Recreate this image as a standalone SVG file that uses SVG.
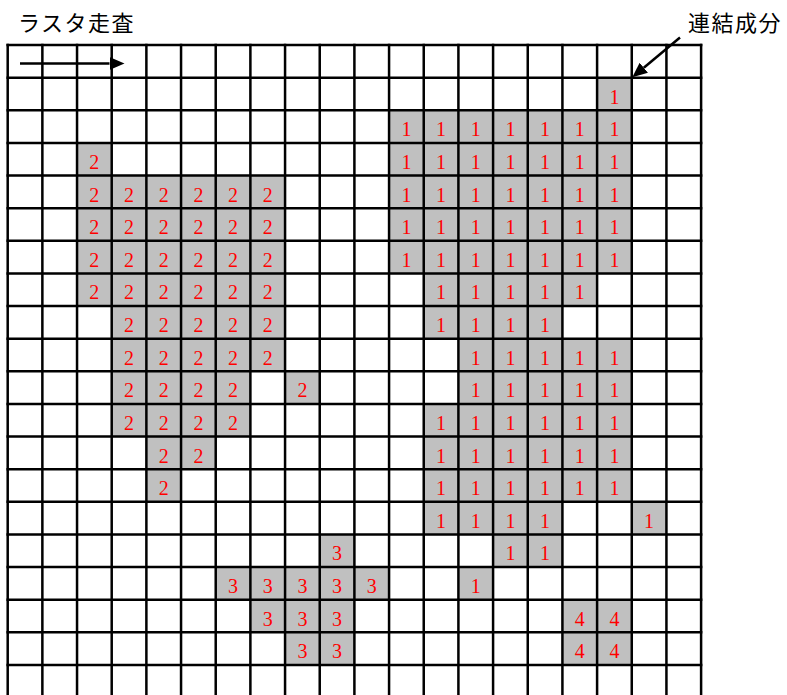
<svg xmlns="http://www.w3.org/2000/svg" xmlns:xlink="http://www.w3.org/1999/xlink" width="787" height="695" viewBox="0 0 787 695">
<style>
.cell{fill:#c0c0c0;stroke:none}
.n{font-family:"Liberation Serif","DejaVu Serif",serif;font-size:20px;fill:#ff0000;text-anchor:middle}
.title{font-family:"Noto Sans CJK JP",sans-serif;font-size:22px;fill:#000;letter-spacing:1.5px}
.grid{fill:none;stroke:#000;stroke-width:2.5;stroke-linecap:square}
.conn{stroke:#000;stroke-width:2.5;fill:none}
</style>
<defs>
<rect id="cell" class="cell" width="34.67" height="32.63"/>
<marker id="ah" markerUnits="userSpaceOnUse" markerWidth="16" markerHeight="14" refX="0" refY="6.5" orient="auto">
<path d="M0,0 L15,6.5 L0,13 Z" fill="#000"/>
</marker>
</defs>
<rect width="787" height="695" fill="#fff"/>
<text id="label-raster" class="title" x="18" y="31">ラスタ走査</text>
<text id="label-component" class="title" x="688" y="31">連結成分</text>

<g id="component-1">
<g transform="translate(0,77.63)"><use href="#cell" x="597.09"/><text class="n" x="614.42" y="26">1</text></g>
<g transform="translate(0,110.26)"><use href="#cell" x="389.07"/><use href="#cell" x="423.74"/><use href="#cell" x="458.41"/><use href="#cell" x="493.08"/><use href="#cell" x="527.75"/><use href="#cell" x="562.42"/><use href="#cell" x="597.09"/><text class="n" x="406.4" y="26">1</text><text class="n" x="441.07" y="26">1</text><text class="n" x="475.74" y="26">1</text><text class="n" x="510.41" y="26">1</text><text class="n" x="545.08" y="26">1</text><text class="n" x="579.75" y="26">1</text><text class="n" x="614.42" y="26">1</text></g>
<g transform="translate(0,142.89)"><use href="#cell" x="389.07"/><use href="#cell" x="423.74"/><use href="#cell" x="458.41"/><use href="#cell" x="493.08"/><use href="#cell" x="527.75"/><use href="#cell" x="562.42"/><use href="#cell" x="597.09"/><text class="n" x="406.4" y="26">1</text><text class="n" x="441.07" y="26">1</text><text class="n" x="475.74" y="26">1</text><text class="n" x="510.41" y="26">1</text><text class="n" x="545.08" y="26">1</text><text class="n" x="579.75" y="26">1</text><text class="n" x="614.42" y="26">1</text></g>
<g transform="translate(0,175.52)"><use href="#cell" x="389.07"/><use href="#cell" x="423.74"/><use href="#cell" x="458.41"/><use href="#cell" x="493.08"/><use href="#cell" x="527.75"/><use href="#cell" x="562.42"/><use href="#cell" x="597.09"/><text class="n" x="406.4" y="26">1</text><text class="n" x="441.07" y="26">1</text><text class="n" x="475.74" y="26">1</text><text class="n" x="510.41" y="26">1</text><text class="n" x="545.08" y="26">1</text><text class="n" x="579.75" y="26">1</text><text class="n" x="614.42" y="26">1</text></g>
<g transform="translate(0,208.15)"><use href="#cell" x="389.07"/><use href="#cell" x="423.74"/><use href="#cell" x="458.41"/><use href="#cell" x="493.08"/><use href="#cell" x="527.75"/><use href="#cell" x="562.42"/><use href="#cell" x="597.09"/><text class="n" x="406.4" y="26">1</text><text class="n" x="441.07" y="26">1</text><text class="n" x="475.74" y="26">1</text><text class="n" x="510.41" y="26">1</text><text class="n" x="545.08" y="26">1</text><text class="n" x="579.75" y="26">1</text><text class="n" x="614.42" y="26">1</text></g>
<g transform="translate(0,240.78)"><use href="#cell" x="389.07"/><use href="#cell" x="423.74"/><use href="#cell" x="458.41"/><use href="#cell" x="493.08"/><use href="#cell" x="527.75"/><use href="#cell" x="562.42"/><use href="#cell" x="597.09"/><text class="n" x="406.4" y="26">1</text><text class="n" x="441.07" y="26">1</text><text class="n" x="475.74" y="26">1</text><text class="n" x="510.41" y="26">1</text><text class="n" x="545.08" y="26">1</text><text class="n" x="579.75" y="26">1</text><text class="n" x="614.42" y="26">1</text></g>
<g transform="translate(0,273.41)"><use href="#cell" x="423.74"/><use href="#cell" x="458.41"/><use href="#cell" x="493.08"/><use href="#cell" x="527.75"/><use href="#cell" x="562.42"/><text class="n" x="441.07" y="26">1</text><text class="n" x="475.74" y="26">1</text><text class="n" x="510.41" y="26">1</text><text class="n" x="545.08" y="26">1</text><text class="n" x="579.75" y="26">1</text></g>
<g transform="translate(0,306.04)"><use href="#cell" x="423.74"/><use href="#cell" x="458.41"/><use href="#cell" x="493.08"/><use href="#cell" x="527.75"/><text class="n" x="441.07" y="26">1</text><text class="n" x="475.74" y="26">1</text><text class="n" x="510.41" y="26">1</text><text class="n" x="545.08" y="26">1</text></g>
<g transform="translate(0,338.67)"><use href="#cell" x="458.41"/><use href="#cell" x="493.08"/><use href="#cell" x="527.75"/><use href="#cell" x="562.42"/><use href="#cell" x="597.09"/><text class="n" x="475.74" y="26">1</text><text class="n" x="510.41" y="26">1</text><text class="n" x="545.08" y="26">1</text><text class="n" x="579.75" y="26">1</text><text class="n" x="614.42" y="26">1</text></g>
<g transform="translate(0,371.3)"><use href="#cell" x="458.41"/><use href="#cell" x="493.08"/><use href="#cell" x="527.75"/><use href="#cell" x="562.42"/><use href="#cell" x="597.09"/><text class="n" x="475.74" y="26">1</text><text class="n" x="510.41" y="26">1</text><text class="n" x="545.08" y="26">1</text><text class="n" x="579.75" y="26">1</text><text class="n" x="614.42" y="26">1</text></g>
<g transform="translate(0,403.93)"><use href="#cell" x="423.74"/><use href="#cell" x="458.41"/><use href="#cell" x="493.08"/><use href="#cell" x="527.75"/><use href="#cell" x="562.42"/><use href="#cell" x="597.09"/><text class="n" x="441.07" y="26">1</text><text class="n" x="475.74" y="26">1</text><text class="n" x="510.41" y="26">1</text><text class="n" x="545.08" y="26">1</text><text class="n" x="579.75" y="26">1</text><text class="n" x="614.42" y="26">1</text></g>
<g transform="translate(0,436.56)"><use href="#cell" x="423.74"/><use href="#cell" x="458.41"/><use href="#cell" x="493.08"/><use href="#cell" x="527.75"/><use href="#cell" x="562.42"/><use href="#cell" x="597.09"/><text class="n" x="441.07" y="26">1</text><text class="n" x="475.74" y="26">1</text><text class="n" x="510.41" y="26">1</text><text class="n" x="545.08" y="26">1</text><text class="n" x="579.75" y="26">1</text><text class="n" x="614.42" y="26">1</text></g>
<g transform="translate(0,469.19)"><use href="#cell" x="423.74"/><use href="#cell" x="458.41"/><use href="#cell" x="493.08"/><use href="#cell" x="527.75"/><use href="#cell" x="562.42"/><use href="#cell" x="597.09"/><text class="n" x="441.07" y="26">1</text><text class="n" x="475.74" y="26">1</text><text class="n" x="510.41" y="26">1</text><text class="n" x="545.08" y="26">1</text><text class="n" x="579.75" y="26">1</text><text class="n" x="614.42" y="26">1</text></g>
<g transform="translate(0,501.82)"><use href="#cell" x="423.74"/><use href="#cell" x="458.41"/><use href="#cell" x="493.08"/><use href="#cell" x="527.75"/><use href="#cell" x="631.76"/><text class="n" x="441.07" y="26">1</text><text class="n" x="475.74" y="26">1</text><text class="n" x="510.41" y="26">1</text><text class="n" x="545.08" y="26">1</text><text class="n" x="649.09" y="26">1</text></g>
<g transform="translate(0,534.45)"><use href="#cell" x="493.08"/><use href="#cell" x="527.75"/><text class="n" x="510.41" y="26">1</text><text class="n" x="545.08" y="26">1</text></g>
<g transform="translate(0,567.08)"><use href="#cell" x="458.41"/><text class="n" x="475.74" y="26">1</text></g>
</g>

<g id="component-2">
<g transform="translate(0,142.89)"><use href="#cell" x="77.04"/><text class="n" x="94.37" y="26">2</text></g>
<g transform="translate(0,175.52)"><use href="#cell" x="77.04"/><use href="#cell" x="111.71"/><use href="#cell" x="146.38"/><use href="#cell" x="181.05"/><use href="#cell" x="215.72"/><use href="#cell" x="250.39"/><text class="n" x="94.37" y="26">2</text><text class="n" x="129.04" y="26">2</text><text class="n" x="163.71" y="26">2</text><text class="n" x="198.38" y="26">2</text><text class="n" x="233.05" y="26">2</text><text class="n" x="267.72" y="26">2</text></g>
<g transform="translate(0,208.15)"><use href="#cell" x="77.04"/><use href="#cell" x="111.71"/><use href="#cell" x="146.38"/><use href="#cell" x="181.05"/><use href="#cell" x="215.72"/><use href="#cell" x="250.39"/><text class="n" x="94.37" y="26">2</text><text class="n" x="129.04" y="26">2</text><text class="n" x="163.71" y="26">2</text><text class="n" x="198.38" y="26">2</text><text class="n" x="233.05" y="26">2</text><text class="n" x="267.72" y="26">2</text></g>
<g transform="translate(0,240.78)"><use href="#cell" x="77.04"/><use href="#cell" x="111.71"/><use href="#cell" x="146.38"/><use href="#cell" x="181.05"/><use href="#cell" x="215.72"/><use href="#cell" x="250.39"/><text class="n" x="94.37" y="26">2</text><text class="n" x="129.04" y="26">2</text><text class="n" x="163.71" y="26">2</text><text class="n" x="198.38" y="26">2</text><text class="n" x="233.05" y="26">2</text><text class="n" x="267.72" y="26">2</text></g>
<g transform="translate(0,273.41)"><use href="#cell" x="77.04"/><use href="#cell" x="111.71"/><use href="#cell" x="146.38"/><use href="#cell" x="181.05"/><use href="#cell" x="215.72"/><use href="#cell" x="250.39"/><text class="n" x="94.37" y="26">2</text><text class="n" x="129.04" y="26">2</text><text class="n" x="163.71" y="26">2</text><text class="n" x="198.38" y="26">2</text><text class="n" x="233.05" y="26">2</text><text class="n" x="267.72" y="26">2</text></g>
<g transform="translate(0,306.04)"><use href="#cell" x="111.71"/><use href="#cell" x="146.38"/><use href="#cell" x="181.05"/><use href="#cell" x="215.72"/><use href="#cell" x="250.39"/><text class="n" x="129.04" y="26">2</text><text class="n" x="163.71" y="26">2</text><text class="n" x="198.38" y="26">2</text><text class="n" x="233.05" y="26">2</text><text class="n" x="267.72" y="26">2</text></g>
<g transform="translate(0,338.67)"><use href="#cell" x="111.71"/><use href="#cell" x="146.38"/><use href="#cell" x="181.05"/><use href="#cell" x="215.72"/><use href="#cell" x="250.39"/><text class="n" x="129.04" y="26">2</text><text class="n" x="163.71" y="26">2</text><text class="n" x="198.38" y="26">2</text><text class="n" x="233.05" y="26">2</text><text class="n" x="267.72" y="26">2</text></g>
<g transform="translate(0,371.3)"><use href="#cell" x="111.71"/><use href="#cell" x="146.38"/><use href="#cell" x="181.05"/><use href="#cell" x="215.72"/><use href="#cell" x="285.06"/><text class="n" x="129.04" y="26">2</text><text class="n" x="163.71" y="26">2</text><text class="n" x="198.38" y="26">2</text><text class="n" x="233.05" y="26">2</text><text class="n" x="302.39" y="26">2</text></g>
<g transform="translate(0,403.93)"><use href="#cell" x="111.71"/><use href="#cell" x="146.38"/><use href="#cell" x="181.05"/><use href="#cell" x="215.72"/><text class="n" x="129.04" y="26">2</text><text class="n" x="163.71" y="26">2</text><text class="n" x="198.38" y="26">2</text><text class="n" x="233.05" y="26">2</text></g>
<g transform="translate(0,436.56)"><use href="#cell" x="146.38"/><use href="#cell" x="181.05"/><text class="n" x="163.71" y="26">2</text><text class="n" x="198.38" y="26">2</text></g>
<g transform="translate(0,469.19)"><use href="#cell" x="146.38"/><text class="n" x="163.71" y="26">2</text></g>
</g>

<g id="component-3">
<g transform="translate(0,534.45)"><use href="#cell" x="319.73"/><text class="n" x="337.06" y="26">3</text></g>
<g transform="translate(0,567.08)"><use href="#cell" x="215.72"/><use href="#cell" x="250.39"/><use href="#cell" x="285.06"/><use href="#cell" x="319.73"/><use href="#cell" x="354.4"/><text class="n" x="233.05" y="26">3</text><text class="n" x="267.72" y="26">3</text><text class="n" x="302.39" y="26">3</text><text class="n" x="337.06" y="26">3</text><text class="n" x="371.73" y="26">3</text></g>
<g transform="translate(0,599.71)"><use href="#cell" x="250.39"/><use href="#cell" x="285.06"/><use href="#cell" x="319.73"/><text class="n" x="267.72" y="26">3</text><text class="n" x="302.39" y="26">3</text><text class="n" x="337.06" y="26">3</text></g>
<g transform="translate(0,632.34)"><use href="#cell" x="285.06"/><use href="#cell" x="319.73"/><text class="n" x="302.39" y="26">3</text><text class="n" x="337.06" y="26">3</text></g>
</g>

<g id="component-4">
<g transform="translate(0,599.71)"><use href="#cell" x="562.42"/><use href="#cell" x="597.09"/><text class="n" x="579.75" y="26">4</text><text class="n" x="614.42" y="26">4</text></g>
<g transform="translate(0,632.34)"><use href="#cell" x="562.42"/><use href="#cell" x="597.09"/><text class="n" x="579.75" y="26">4</text><text class="n" x="614.42" y="26">4</text></g>
</g>

<g id="grid">
<path class="grid" d="M7.7,45V700 M42.37,45V700 M77.04,45V700 M111.71,45V700 M146.38,45V700 M181.05,45V700 M215.72,45V700 M250.39,45V700 M285.06,45V700 M319.73,45V700 M354.4,45V700 M389.07,45V700 M423.74,45V700 M458.41,45V700 M493.08,45V700 M527.75,45V700 M562.42,45V700 M597.09,45V700 M631.76,45V700 M666.43,45V700 M701.1,45V700"/>
<path class="grid" d="M7.7,45H701.1 M7.7,77.63H701.1 M7.7,110.26H701.1 M7.7,142.89H701.1 M7.7,175.52H701.1 M7.7,208.15H701.1 M7.7,240.78H701.1 M7.7,273.41H701.1 M7.7,306.04H701.1 M7.7,338.67H701.1 M7.7,371.3H701.1 M7.7,403.93H701.1 M7.7,436.56H701.1 M7.7,469.19H701.1 M7.7,501.82H701.1 M7.7,534.45H701.1 M7.7,567.08H701.1 M7.7,599.71H701.1 M7.7,632.34H701.1 M7.7,664.97H701.1"/>
</g>

<g id="connectors">
<line class="conn" x1="20" y1="63.5" x2="109.5" y2="63.5" marker-end="url(#ah)"/>
<line class="conn" x1="680" y1="37.5" x2="643.8" y2="67.7" marker-end="url(#ah)"/>
</g>
</svg>
